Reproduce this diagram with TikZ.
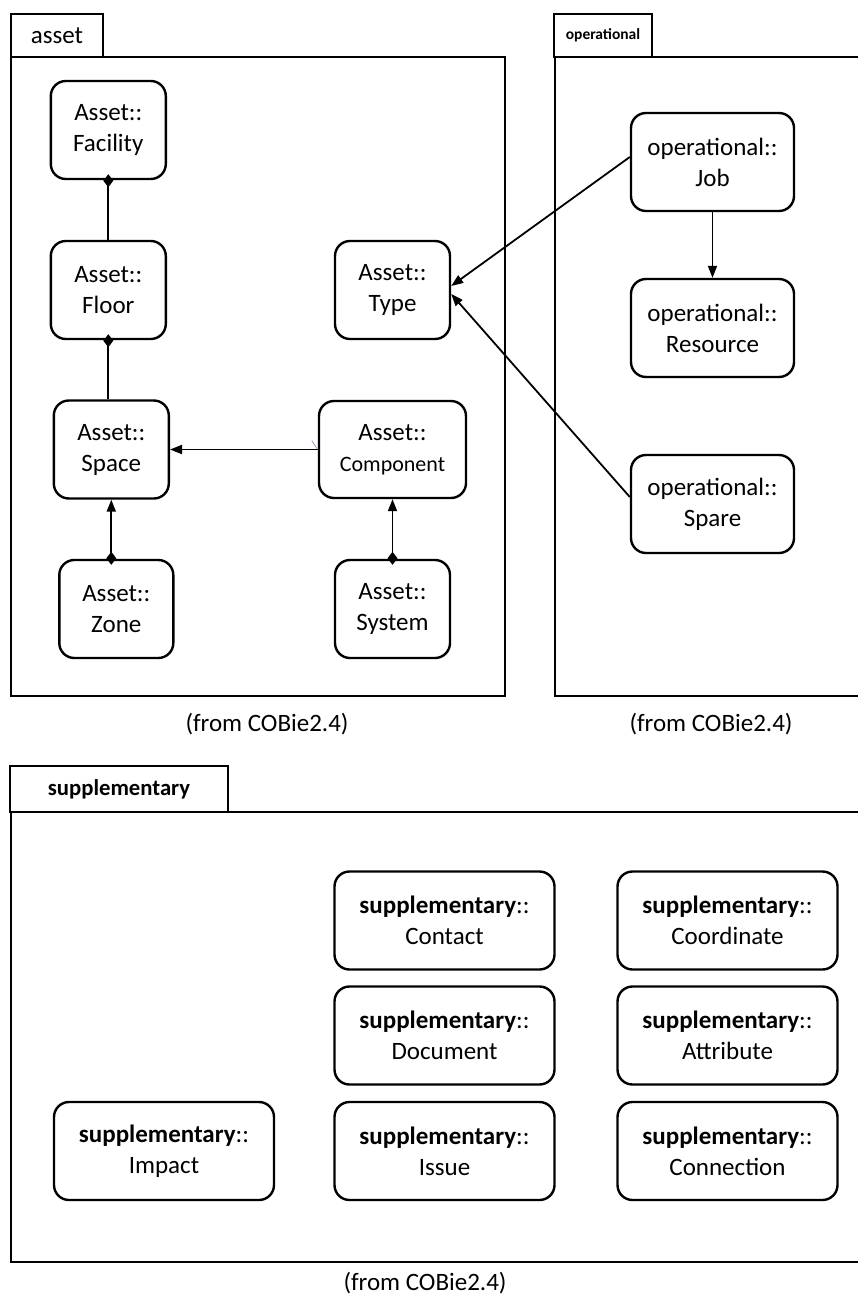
\documentclass[tikz,border=0pt]{standalone}
\usepackage{fontspec}
\setmainfont{Carlito}
\usetikzlibrary{arrows.meta}
\begin{document}
\begin{tikzpicture}[x=1pt,y=-1pt,
  cls/.style={draw, line width=2.4pt, rounded corners=15pt, inner sep=0pt,
    align=center, font=\fontsize{25}{31}\selectfont},
  assetcls/.style={cls, minimum width=115pt, minimum height=98pt},
  opcls/.style={cls, minimum width=163pt, minimum height=98pt},
  supcls/.style={cls, minimum width=220pt, minimum height=98pt},
  pkg/.style={draw, line width=2.4pt},
  tab/.style={draw, line width=2.4pt, inner sep=0pt},
  caption/.style={font=\fontsize{25}{30}\selectfont, inner sep=0pt},
  link/.style={line width=1.8pt},
  arr/.style={link, -{Triangle[length=12pt,width=9pt]}},
  comp/.style={link, {Diamond[length=13pt,width=10pt]}-, shorten <=-6pt},
  compnav/.style={link, {Diamond[length=13pt,width=10pt]}-{Triangle[length=12pt,width=9pt]}, shorten <=-6pt},
]
\useasboundingbox (0,0) rectangle (858,1295);
\clip (0,0) rectangle (858,1295);

% ---------- package: asset ----------
\node[tab, minimum width=92pt, minimum height=43pt,
      font=\fontsize{25}{30}\selectfont] (assetTab) at (57,35.5) {asset};
\draw[pkg] (11,57) rectangle (505,696);
\node[caption] (assetFrom) at (267,724) {(from COBie2.4)};

\node[assetcls] (facility)  at (108.3,130)   {Asset::\\Facility};
\node[assetcls] (floor)     at (108.3,290)   {Asset::\\Floor};
\node[assetcls] (space)     at (111.3,449.5) {Asset::\\Space};
\node[assetcls, minimum width=114pt] (zone) at (116.3,609) {Asset::\\Zone};
\node[assetcls] (type)      at (392.5,290)   {Asset::\\Type};
\node[assetcls, minimum width=147pt, minimum height=97pt] (component) at (392.5,449.5)
  {Asset::\\{\fontsize{22}{31}\selectfont Component}};
\node[assetcls] (system)    at (392.5,609)   {Asset::\\System};

% ---------- package: operational ----------
\node[tab, minimum width=98pt, minimum height=43pt,
      font=\bfseries\fontsize{15.5}{18}\selectfont] (opTab) at (603,35.5) {operational};
\draw[pkg] (555,57) rectangle (880,696);
\node[caption] (opFrom) at (711,724) {(from COBie2.4)};

\node[opcls] (job)      at (712.5,162) {operational::\\Job};
\node[opcls] (resource) at (712.5,328) {operational::\\Resource};
\node[opcls] (spare)    at (712.5,504) {operational::\\Spare};

% ---------- package: supplementary ----------
\node[tab, minimum width=218pt, minimum height=46pt,
      font=\bfseries\fontsize{22.7}{27}\selectfont] (supTab) at (119,789) {supplementary};
\draw[pkg] (11,812) rectangle (880,1262);
\node[caption] (supFrom) at (425,1283) {(from COBie2.4)};

\node[supcls] (contact)    at (444.5,920.5)  {\textbf{supplementary}::\\Contact};
\node[supcls] (coordinate) at (727.5,920.5)  {\textbf{supplementary}::\\Coordinate};
\node[supcls] (document)   at (444.5,1035.5) {\textbf{supplementary}::\\Document};
\node[supcls] (attribute)  at (727.5,1035.5) {\textbf{supplementary}::\\Attribute};
\node[supcls] (impact)     at (164,1151)     {\textbf{supplementary}::\\Impact};
\node[supcls] (issue)      at (444.5,1151)   {\textbf{supplementary}::\\Issue};
\node[supcls] (connection) at (727.5,1151)   {\textbf{supplementary}::\\Connection};

% ---------- relations ----------
\draw[comp] (facility.south) -- (floor.north);
\draw[comp] (floor.south) -- (floor.south |- space.north);
\draw[compnav] (zone.north -| space.south) -- (space.south);
\draw[compnav] (system.north) -- (component.south);
\draw[arr] (component.west) -- (space.east);
\draw[arr] ([yshift=5pt]job.west) -- ([yshift=4pt]type.east);
\draw[arr] ([yshift=7pt]spare.west) -- ([yshift=-4pt]type.east);
\draw[arr] (job.south) -- (resource.north);

% small stray stroke at the component end of the space link
\draw[line width=0.7pt, color={rgb,255:red,110;green,150;blue,200}]
  ([xshift=-6pt,yshift=9pt]component.west) -- ([xshift=-1pt,yshift=1pt]component.west);
\end{tikzpicture}
\end{document}
